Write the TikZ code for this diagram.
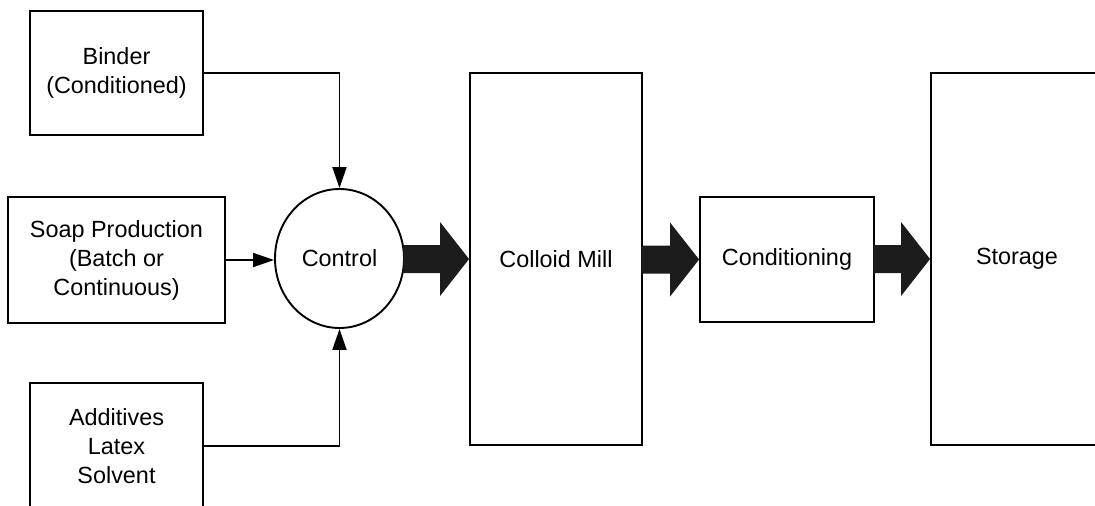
\documentclass[tikz,border=0pt]{standalone}
\usepackage{fontspec}
\setmainfont{Liberation Sans}
\usetikzlibrary{arrows.meta,shapes.geometric,calc}

% broad block arrow from the east side of one node to the west side of the next
\newcommand\flowarrow[2]{%
  \fill[bigarrow] let \p1=(#1.east), \p2=(#2.west) in
    (\x1-1.5pt,\y2+14pt) -- (\x2-29pt,\y2+14pt) -- (\x2-29pt,\y2+37pt) --
    (\x2,\y2) --
    (\x2-29pt,\y2-37pt) -- (\x2-29pt,\y2-14pt) -- (\x1-1.5pt,\y2-14pt) -- cycle;}

\begin{document}
\begin{tikzpicture}[x=1pt,y=-1pt,
  font=\fontsize{23.4}{29}\selectfont,
  box/.style={draw, line width=1.9pt, inner sep=0pt, align=center},
  feed/.style={line width=1.9pt, -{Triangle[length=21pt,width=14pt]}},
  bigarrow/.style={fill=black!89}]
\useasboundingbox (0,0) rectangle (1095,506);

% raw material inputs
\node[box, minimum width=173pt, minimum height=124pt] (binder) at (116.5,73) {Binder\\(Conditioned)};
\node[box, minimum width=217pt, minimum height=126pt] (soap) at (116.5,260) {Soap Production\\(Batch or\\Continuous)};
\node[box, minimum width=173pt, minimum height=126pt] (add) at (116.5,446) {Additives\\Latex\\Solvent};

% control stage
\node[draw, ellipse, line width=1.9pt, inner sep=0pt, minimum width=129pt, minimum height=139pt] (ctl) at (339.5,258.5) {Control};

% processing line
\node[box, minimum width=172pt, minimum height=372pt] (mill) at (556,259) {Colloid Mill};
\node[box, minimum width=174pt, minimum height=125pt] (cond) at (787,259.5) {Conditioning};
\node[box, minimum width=172pt, minimum height=372pt] (store) at (1017,259) {Storage};

% feeds into control
\draw[feed] (binder.east) -| (ctl.north);
\draw[feed] (soap.east) -- (soap.east -| ctl.west);
\draw[feed] (add.east) -| (ctl.south);

% main product flow
\flowarrow{ctl}{mill}
\flowarrow{mill}{cond}
\flowarrow{cond}{store}
\end{tikzpicture}
\end{document}
